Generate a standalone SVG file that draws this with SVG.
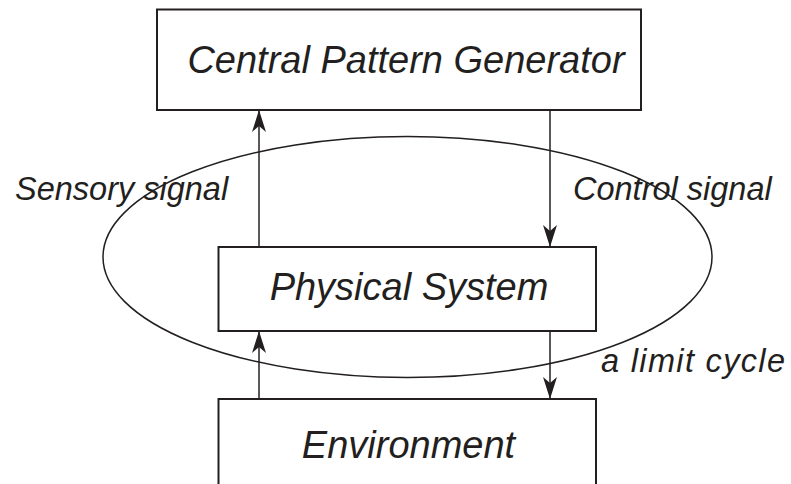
<svg xmlns="http://www.w3.org/2000/svg" width="791" height="484" viewBox="0 0 791 484">
  <defs>
    <marker id="head" markerWidth="24" markerHeight="14" refX="22" refY="7" orient="auto" markerUnits="userSpaceOnUse">
      <path d="M0,0 L22,7 L0,14 L6,7 Z" fill="#231f20"/>
    </marker>
    <style>
      .box { fill: #ffffff; stroke: #231f20; stroke-width: 2; }
      .wire { fill: none; stroke: #231f20; stroke-width: 1.5; }
      .name { font-family: "Liberation Sans", Arial, sans-serif; font-style: italic; font-size: 38px; fill: #231f20; text-anchor: middle; }
      .label { font-family: "Liberation Sans", Arial, sans-serif; font-style: italic; font-size: 32.5px; fill: #231f20; }
    </style>
  </defs>
  <rect width="791" height="484" fill="#ffffff"/>

  <g id="cpg">
    <rect class="box" x="157" y="9.5" width="484" height="100.5"/>
    <text class="name" x="406" y="72.5">Central Pattern Generator</text>
  </g>

  <g id="physical-system">
    <rect class="box" x="218.5" y="247" width="377.5" height="84"/>
    <text class="name" x="409" y="300">Physical System</text>
  </g>

  <g id="environment">
    <rect class="box" x="218.5" y="399" width="377.5" height="100"/>
    <text class="name" x="408.5" y="458">Environment</text>
  </g>

  <g id="connectors">
    <line class="wire" x1="259" y1="247" x2="259" y2="110" marker-end="url(#head)"/>
    <line class="wire" x1="550" y1="110" x2="550" y2="247" marker-end="url(#head)"/>
    <line class="wire" x1="259" y1="399" x2="259" y2="331" marker-end="url(#head)"/>
    <line class="wire" x1="550" y1="331" x2="550" y2="399" marker-end="url(#head)"/>
  </g>

  <g id="limit-cycle">
    <ellipse class="wire" cx="407.5" cy="257" rx="304.5" ry="120.5"/>
  </g>

  <g id="labels">
    <text class="label" x="15" y="200">Sensory signal</text>
    <text class="label" x="573" y="200">Control signal</text>
    <text class="label" x="601" y="372" font-size="34" textLength="184" lengthAdjust="spacing">a limit cycle</text>
  </g>
</svg>
